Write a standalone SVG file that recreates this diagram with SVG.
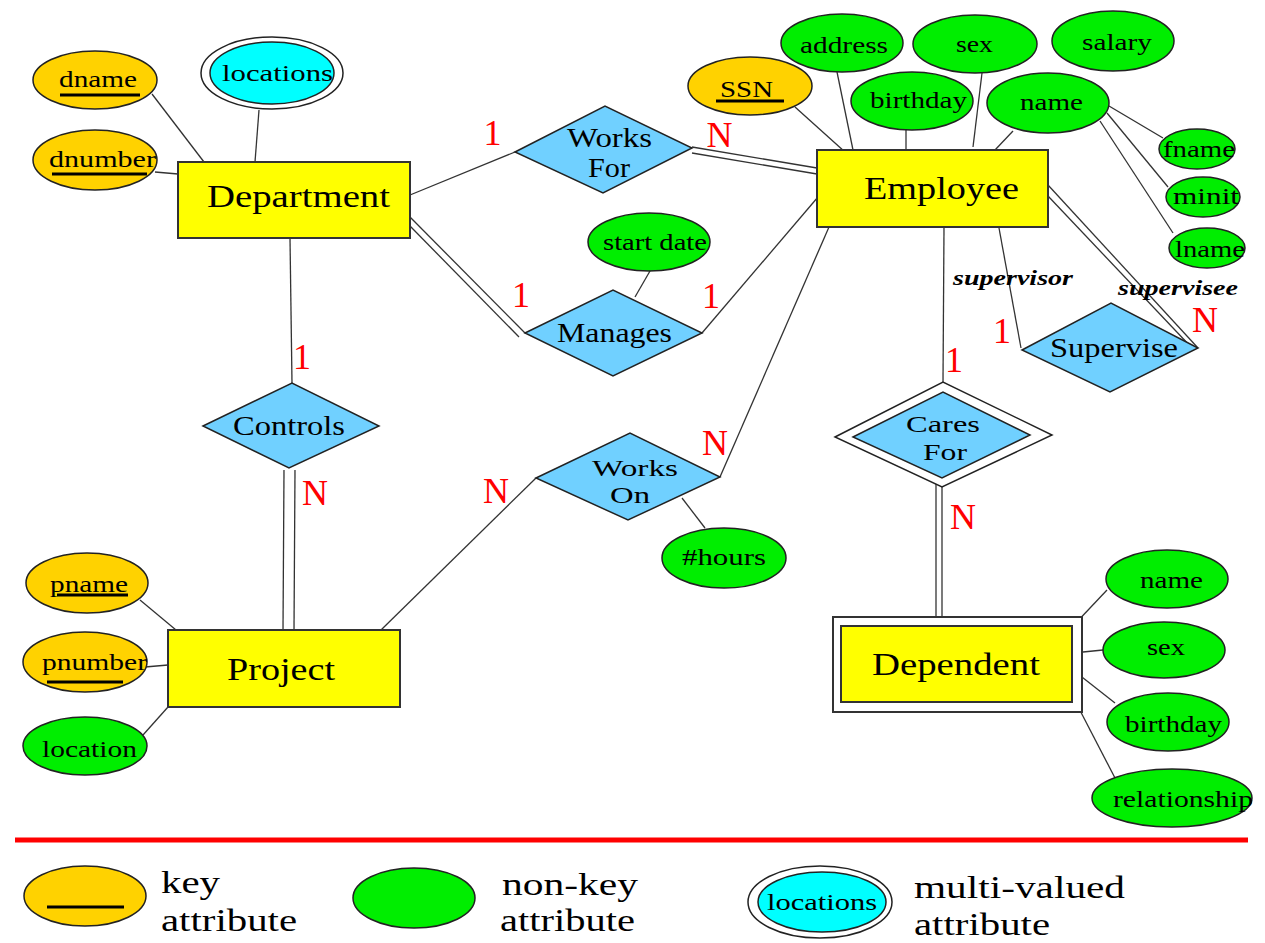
<svg xmlns="http://www.w3.org/2000/svg" width="1265" height="943" viewBox="0 0 1265 943">
<style>
text{font-family:"Liberation Serif","Times New Roman",serif;fill:#000}
.ent{fill:#ffff00;stroke:#333;stroke-width:2}
.wk{fill:#fff;stroke:#333;stroke-width:2}
.rel{fill:#70d0ff;stroke:#222;stroke-width:1.5}
.relo{fill:#fff;stroke:#222;stroke-width:1.5}
.key{fill:#ffd200;stroke:#222;stroke-width:1.5}
.att{fill:#00ee00;stroke:#222;stroke-width:1.5}
.mv{fill:#00ffff;stroke:#222;stroke-width:1.5}
.mvo{fill:#fff;stroke:#222;stroke-width:1.5}
.ln{stroke:#333;stroke-width:1.3;fill:none}
.ul{stroke:#000;stroke-width:3}
.a{font-size:24px}
.e{font-size:32px}
.r{font-size:28px}
.r2{font-size:24px}
.c{font-size:36px;fill:#ff0000;text-anchor:middle}
.role{font-size:22px;font-style:italic;font-weight:bold}
.lg{font-size:31px}
</style>

<g id="connectors">
<line class="ln" x1="152" y1="94" x2="204" y2="162"/>
<line class="ln" x1="259" y1="110" x2="255" y2="162"/>
<line class="ln" x1="155" y1="172" x2="178" y2="174"/>
<line class="ln" x1="410" y1="195" x2="515" y2="152"/>
<line class="ln" x1="692" y1="147" x2="817" y2="168"/>
<line class="ln" x1="692" y1="153" x2="817" y2="174"/>
<line class="ln" x1="410" y1="217" x2="525" y2="333"/>
<line class="ln" x1="410" y1="226" x2="519" y2="337"/>
<line class="ln" x1="702" y1="333" x2="818" y2="197"/>
<line class="ln" x1="650" y1="271" x2="635" y2="297"/>
<line class="ln" x1="795" y1="107" x2="845" y2="152"/>
<line class="ln" x1="837" y1="72" x2="853" y2="150"/>
<line class="ln" x1="906" y1="130" x2="906" y2="152"/>
<line class="ln" x1="982" y1="73" x2="973" y2="147"/>
<line class="ln" x1="1013" y1="131" x2="995" y2="150"/>
<line class="ln" x1="1109" y1="106" x2="1163" y2="138"/>
<line class="ln" x1="1107" y1="113" x2="1168" y2="187"/>
<line class="ln" x1="1100" y1="121" x2="1173" y2="233"/>
<line class="ln" x1="944" y1="227" x2="943" y2="382"/>
<line class="ln" x1="999" y1="228" x2="1021" y2="348"/>
<line class="ln" x1="1048" y1="185" x2="1198" y2="348"/>
<line class="ln" x1="1048" y1="196" x2="1192" y2="348"/>
<line class="ln" x1="290" y1="238" x2="292" y2="383"/>
<line class="ln" x1="284" y1="470" x2="283" y2="630"/>
<line class="ln" x1="295" y1="470" x2="294" y2="630"/>
<line class="ln" x1="720" y1="477" x2="829" y2="227"/>
<line class="ln" x1="536" y1="478" x2="381" y2="630"/>
<line class="ln" x1="682" y1="498" x2="705" y2="528"/>
<line class="ln" x1="936" y1="484" x2="936" y2="617"/>
<line class="ln" x1="942" y1="487" x2="942" y2="617"/>
<line class="ln" x1="140" y1="600" x2="176" y2="630"/>
<line class="ln" x1="145" y1="667" x2="168" y2="665"/>
<line class="ln" x1="143" y1="735" x2="168" y2="707"/>
<line class="ln" x1="1107" y1="590" x2="1073" y2="626"/>
<line class="ln" x1="1103" y1="650" x2="1073" y2="653"/>
<line class="ln" x1="1115" y1="703" x2="1073" y2="670"/>
<line class="ln" x1="1115" y1="778" x2="1072" y2="695"/>
</g>

<g id="cardinalities">
<text class="c" x="492.5" y="145">1</text>
<text class="c" x="719.5" y="147">N</text>
<text class="c" x="521" y="307">1</text>
<text class="c" x="711" y="308">1</text>
<text class="c" x="302" y="369">1</text>
<text class="c" x="315" y="505">N</text>
<text class="c" x="496" y="503">N</text>
<text class="c" x="715" y="455">N</text>
<text class="c" x="1002" y="343">1</text>
<text class="c" x="1205" y="332">N</text>
<text class="c" x="954" y="372">1</text>
<text class="c" x="963" y="529">N</text>
<text class="role" x="953" y="285" textLength="120" lengthAdjust="spacingAndGlyphs">supervisor</text>
<text class="role" x="1118" y="295" textLength="120" lengthAdjust="spacingAndGlyphs">supervisee</text>
</g>

<g id="Department">
<rect class="ent" x="178" y="162" width="232" height="76"/>
<text class="e" x="207" y="207" textLength="183" lengthAdjust="spacingAndGlyphs">Department</text>
</g>
<g id="Employee">
<rect class="ent" x="817" y="150" width="231" height="77"/>
<text class="e" x="864" y="199" textLength="155" lengthAdjust="spacingAndGlyphs">Employee</text>
</g>
<g id="Project">
<rect class="ent" x="168" y="630" width="232" height="77"/>
<text class="e" x="227" y="680" textLength="108" lengthAdjust="spacingAndGlyphs">Project</text>
</g>
<g id="Dependent">
<rect class="wk" x="833" y="617" width="249" height="95"/>
<rect class="ent" x="841" y="626" width="231" height="76"/>
<text class="e" x="872" y="675" textLength="168" lengthAdjust="spacingAndGlyphs">Dependent</text>
</g>

<g id="WorksFor">
<polygon class="rel" points="515,152 605,106 692,148 603,193"/>
<text class="r" x="567" y="147" textLength="85" lengthAdjust="spacingAndGlyphs">Works</text>
<text class="r" x="588" y="177" textLength="42" lengthAdjust="spacingAndGlyphs">For</text>
</g>
<g id="Manages">
<polygon class="rel" points="525,333 613,290 702,333 613,376"/>
<text class="r" x="557" y="342" textLength="115" lengthAdjust="spacingAndGlyphs">Manages</text>
</g>
<g id="Controls">
<polygon class="rel" points="203,426 292,383 379,426 289,468"/>
<text class="r" x="233" y="435" textLength="112" lengthAdjust="spacingAndGlyphs">Controls</text>
</g>
<g id="WorksOn">
<polygon class="rel" points="536,478 630,433 720,477 628,520"/>
<text class="r2" x="592" y="476" textLength="86" lengthAdjust="spacingAndGlyphs">Works</text>
<text class="r2" x="610" y="503" textLength="40" lengthAdjust="spacingAndGlyphs">On</text>
</g>
<g id="Supervise">
<polygon class="rel" points="1022,350 1111,303 1198,348 1110,392"/>
<text class="r" x="1050" y="357" textLength="128" lengthAdjust="spacingAndGlyphs">Supervise</text>
</g>
<g id="CaresFor">
<polygon class="relo" points="835,437 943,382 1052,435 942,487"/>
<polygon class="rel" points="853,437 943,392 1030,435 942,478"/>
<text class="r2" x="906" y="432" textLength="74" lengthAdjust="spacingAndGlyphs">Cares</text>
<text class="r2" x="923" y="460" textLength="44" lengthAdjust="spacingAndGlyphs">For</text>
</g>

<g id="dname">
<ellipse class="key" cx="95" cy="80" rx="62" ry="29"/>
<text class="a" x="59" y="87" textLength="78" lengthAdjust="spacingAndGlyphs">dname</text>
<line class="ul" x1="60" y1="95" x2="140" y2="95"/>
</g>
<g id="dnumber">
<ellipse class="key" cx="95" cy="160" rx="62" ry="30"/>
<text class="a" x="49" y="167" textLength="107" lengthAdjust="spacingAndGlyphs">dnumber</text>
<line class="ul" x1="52" y1="174" x2="147" y2="174"/>
</g>
<g id="locations">
<ellipse class="mvo" cx="272" cy="73" rx="71" ry="36"/>
<ellipse class="mv" cx="272" cy="73" rx="62" ry="31"/>
<text class="a" x="222" y="81" textLength="111" lengthAdjust="spacingAndGlyphs">locations</text>
</g>
<g id="SSN">
<ellipse class="key" cx="750" cy="86" rx="62" ry="29"/>
<text class="a" x="720" y="97" textLength="53" lengthAdjust="spacingAndGlyphs">SSN</text>
<line class="ul" x1="716" y1="101" x2="784" y2="101"/>
</g>
<g id="address">
<ellipse class="att" cx="842" cy="43" rx="61" ry="29"/>
<text class="a" x="800" y="53" textLength="88" lengthAdjust="spacingAndGlyphs">address</text>
</g>
<g id="sex">
<ellipse class="att" cx="975" cy="44" rx="62" ry="29"/>
<text class="a" x="956" y="52" textLength="37" lengthAdjust="spacingAndGlyphs">sex</text>
</g>
<g id="salary">
<ellipse class="att" cx="1113" cy="41" rx="61" ry="30"/>
<text class="a" x="1082" y="50" textLength="70" lengthAdjust="spacingAndGlyphs">salary</text>
</g>
<g id="birthday">
<ellipse class="att" cx="912" cy="101" rx="61" ry="29"/>
<text class="a" x="870" y="108" textLength="97" lengthAdjust="spacingAndGlyphs">birthday</text>
</g>
<g id="name">
<ellipse class="att" cx="1048" cy="103" rx="61" ry="30"/>
<text class="a" x="1020" y="110" textLength="63" lengthAdjust="spacingAndGlyphs">name</text>
</g>
<g id="fname">
<ellipse class="att" cx="1197" cy="149" rx="38" ry="20"/>
<text class="a" x="1163" y="157" textLength="72" lengthAdjust="spacingAndGlyphs">fname</text>
</g>
<g id="minit">
<ellipse class="att" cx="1203" cy="197" rx="37" ry="20"/>
<text class="a" x="1173" y="204" textLength="66" lengthAdjust="spacingAndGlyphs">minit</text>
</g>
<g id="lname">
<ellipse class="att" cx="1207" cy="248" rx="38" ry="20"/>
<text class="a" x="1175" y="257" textLength="70" lengthAdjust="spacingAndGlyphs">lname</text>
</g>
<g id="startdate">
<ellipse class="att" cx="649" cy="242" rx="61" ry="29"/>
<text class="a" x="603" y="250" textLength="104" lengthAdjust="spacingAndGlyphs">start date</text>
</g>
<g id="hours">
<ellipse class="att" cx="724" cy="558" rx="62" ry="30"/>
<text class="a" x="682" y="565" textLength="84" lengthAdjust="spacingAndGlyphs">#hours</text>
</g>
<g id="pname">
<ellipse class="key" cx="87" cy="583" rx="61" ry="30"/>
<text class="a" x="50" y="592" textLength="78" lengthAdjust="spacingAndGlyphs">pname</text>
<line class="ul" x1="57" y1="595" x2="128" y2="595"/>
</g>
<g id="pnumber">
<ellipse class="key" cx="85" cy="662" rx="62" ry="30"/>
<text class="a" x="42" y="670" textLength="105" lengthAdjust="spacingAndGlyphs">pnumber</text>
<line class="ul" x1="47" y1="682" x2="123" y2="682"/>
</g>
<g id="location">
<ellipse class="att" cx="85" cy="746" rx="62" ry="29"/>
<text class="a" x="42" y="757" textLength="95" lengthAdjust="spacingAndGlyphs">location</text>
</g>
<g id="dep-name">
<ellipse class="att" cx="1167" cy="579" rx="61" ry="29"/>
<text class="a" x="1140" y="588" textLength="63" lengthAdjust="spacingAndGlyphs">name</text>
</g>
<g id="dep-sex">
<ellipse class="att" cx="1164" cy="650" rx="61" ry="28"/>
<text class="a" x="1147" y="655" textLength="38" lengthAdjust="spacingAndGlyphs">sex</text>
</g>
<g id="dep-birthday">
<ellipse class="att" cx="1168" cy="722" rx="61" ry="29"/>
<text class="a" x="1125" y="732" textLength="97" lengthAdjust="spacingAndGlyphs">birthday</text>
</g>
<g id="relationship">
<ellipse class="att" cx="1172" cy="798" rx="80" ry="29"/>
<text class="a" x="1113" y="807" textLength="140" lengthAdjust="spacingAndGlyphs">relationship</text>
</g>

<g id="legend">
<line x1="15" y1="840" x2="1248" y2="840" stroke="#ff0000" stroke-width="5"/>
<ellipse class="key" cx="85" cy="896" rx="61" ry="30"/>
<line class="ul" x1="47" y1="907" x2="124" y2="907" stroke-width="3.5"/>
<text class="lg" x="161" y="893" textLength="59" lengthAdjust="spacingAndGlyphs">key</text>
<text class="lg" x="161" y="931" textLength="136" lengthAdjust="spacingAndGlyphs">attribute</text>
<ellipse class="att" cx="414" cy="898" rx="61" ry="30"/>
<text class="lg" x="502" y="895" textLength="136" lengthAdjust="spacingAndGlyphs">non-key</text>
<text class="lg" x="500" y="931" textLength="135" lengthAdjust="spacingAndGlyphs">attribute</text>
<ellipse class="mvo" cx="820" cy="902" rx="72" ry="36"/>
<ellipse class="mv" cx="822" cy="902" rx="64" ry="30"/>
<text class="a" x="767" y="910" textLength="110" lengthAdjust="spacingAndGlyphs">locations</text>
<text class="lg" x="914" y="898" textLength="211" lengthAdjust="spacingAndGlyphs">multi-valued</text>
<text class="lg" x="914" y="935" textLength="136" lengthAdjust="spacingAndGlyphs">attribute</text>
</g>
</svg>
